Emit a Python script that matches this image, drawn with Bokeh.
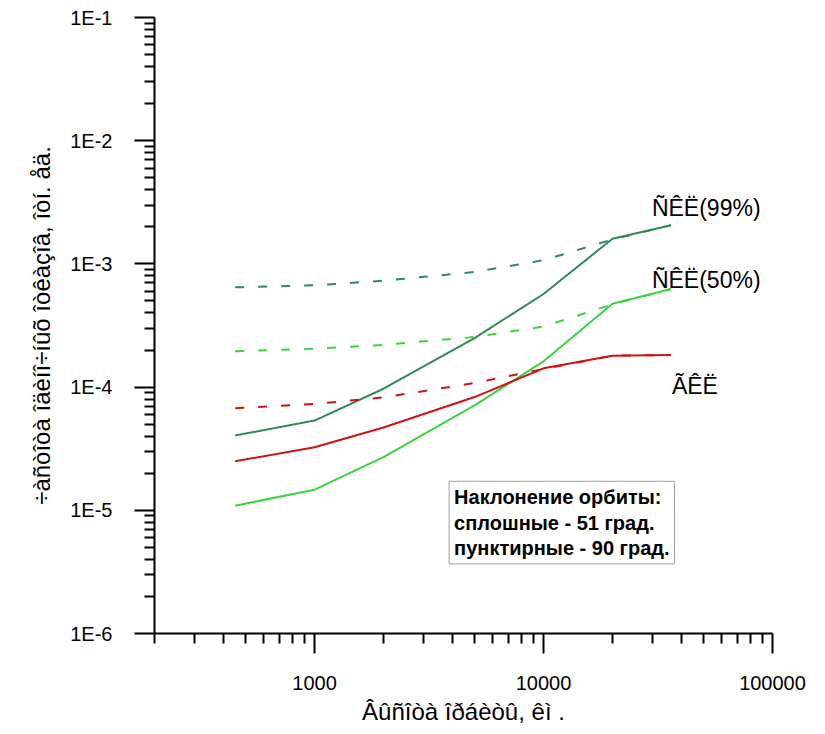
from bokeh.plotting import figure
from bokeh.models import (FixedTicker, CustomJSTickFormatter, Label,
                          ColumnDataSource, Range1d)
from bokeh.core.properties import value
from bokeh.embed import file_html
from bokeh.resources import INLINE

# ---------------- data ----------------
altitude_km = [450, 1000, 2000, 5000, 10000, 20000, 36000]
skl99_51 = [4.05e-5, 5.35e-5, 9.7e-5, 2.5e-4, 5.7e-4, 1.6e-3, 2.06e-3]
skl99_90 = [6.45e-4, 6.7e-4, 7.3e-4, 8.6e-4, 1.07e-3, 1.58e-3, 2.06e-3]
skl50_51 = [1.09e-5, 1.47e-5, 2.7e-5, 7.1e-5, 1.62e-4, 4.75e-4, 6.25e-4]
skl50_90 = [1.95e-4, 2.05e-4, 2.2e-4, 2.55e-4, 3.1e-4, 4.7e-4, 6.25e-4]
gkl_51 = [2.5e-5, 3.25e-5, 4.7e-5, 8.3e-5, 1.42e-4, 1.8e-4, 1.82e-4]
gkl_90 = [6.75e-5, 7.3e-5, 8.25e-5, 1.08e-4, 1.4e-4, 1.8e-4, 1.82e-4]

series_labels = ["\u00d1\u00ca\u00cb(99%)", "\u00d1\u00ca\u00cb(50%)", "\u00c3\u00ca\u00cb"]

x_ticks = [1000, 10000, 100000]
x_tick_labels = ["1000", "10000", "100000"]
y_ticks = [1e-6, 1e-5, 1e-4, 1e-3, 1e-2, 1e-1]
y_tick_labels = ["1E-6", "1E-5", "1E-4", "1E-3", "1E-2", "1E-1"]

x_title = "\u00c2\u00fb\u00f1\u00ee\u00f2\u00e0 \u00ee\u00f0\u00e1\u00e8\u00f2\u00fb, \u00ea\u00ec ."
y_title = "\u00f7\u00e0\u00f1\u00f2\u00ee\u00f2\u00e0 \u00ee\u00e4\u00e8\u00ed\u00ee\u00f7\u00ed\u00fb\u00f5 \u00ee\u00f2\u00ea\u00e0\u00e7\u00ee\u00e2, \u00ee\u00f2\u00ed. \u00e5\u00e4."
note_text = "Наклонение орбиты:\nсплошные - 51 град.\nпунктирные - 90 град."

# ---------------- style ----------------
DARK = "#2E8B57"
LIGHT = "#3CD43C"
RED = "#CC1414"
FONT = "Liberation Sans"

p = figure(width=817, height=733, x_axis_type="log", y_axis_type="log",
           x_range=Range1d(200, 100000), y_range=Range1d(1e-6, 1e-1),
           output_backend="svg", toolbar_location=None,
           min_border_left=154, min_border_right=45,
           min_border_top=17, min_border_bottom=100)
p.outline_line_color = None
p.grid.visible = False
p.background_fill_color = "white"
p.border_fill_color = "white"


def minor_of(ticks):
    out = []
    for t in ticks:
        for m in range(2, 10):
            out.append(t / 10 * m)
    return out


fmt_code = """
const i = tv.findIndex(t => Math.abs(Math.log10(t) - Math.log10(tick)) < 1e-6);
return i >= 0 ? tl[i] : "";
"""
p.xaxis.ticker = FixedTicker(ticks=x_ticks, minor_ticks=minor_of(x_ticks))
p.yaxis.ticker = FixedTicker(ticks=y_ticks, minor_ticks=minor_of(y_ticks))
p.xaxis.formatter = CustomJSTickFormatter(args=dict(tv=x_ticks, tl=x_tick_labels), code=fmt_code)
p.yaxis.formatter = CustomJSTickFormatter(args=dict(tv=y_ticks, tl=y_tick_labels), code=fmt_code)

for ax in (p.xaxis[0], p.yaxis[0]):
    ax.axis_line_width = 2
    ax.axis_line_color = "black"
    ax.major_tick_line_width = 2
    ax.minor_tick_line_width = 2
    ax.major_tick_out = 20
    ax.major_tick_in = 0
    ax.minor_tick_out = 10
    ax.minor_tick_in = 0
    ax.major_label_text_font = FONT
    ax.major_label_text_font_size = "20px"
    ax.major_label_text_color = "black"
    ax.axis_label_text_font = FONT
    ax.axis_label_text_font_size = "24px"
    ax.axis_label_text_font_style = "normal"
    ax.axis_label_text_color = "black"

p.xaxis.axis_label = x_title
p.yaxis.axis_label = y_title
p.xaxis.major_label_standoff = 22
p.xaxis.axis_label_standoff = 5
p.yaxis.major_label_standoff = 22
p.yaxis.axis_label_standoff = 12
p.yaxis.major_label_orientation = "horizontal"

# ---------------- lines ----------------
p.line(altitude_km, skl99_51, line_color=DARK, line_width=2)
p.line(altitude_km, skl99_90, line_color=DARK, line_width=2, line_dash="9 14")
p.line(altitude_km, skl50_51, line_color=LIGHT, line_width=2)
p.line(altitude_km, skl50_90, line_color=LIGHT, line_width=2, line_dash="9 14")
p.line(altitude_km, gkl_51, line_color=RED, line_width=2)
p.line(altitude_km, gkl_90, line_color=RED, line_width=2, line_dash="9 14")

# series labels anchored at the end of each solid curve
lab_src = ColumnDataSource(dict(
    x=[altitude_km[-1]] * 3,
    y=[skl99_51[-1], skl50_51[-1], gkl_51[-1]],
    text=series_labels,
    xo=[-19, -19, 1],
    yo=[-17, -9, 31],
))
p.text(x="x", y="y", text="text", source=lab_src, x_offset="xo", y_offset="yo",
       text_font=value(FONT), text_font_size="23px", text_color="black",
       text_align="left", text_baseline="middle")

note = Label(x=3870, y=1.72e-5, x_units="data", y_units="data",
             text=note_text, anchor="top_left",
             text_font="Liberation Sans", text_font_size="20px",
             text_font_style="bold", text_color="black",
             text_line_height=1.15, padding=5,
             border_line_color="#A0A0A0", border_line_width=1,
             background_fill_color="white")
p.add_layout(note)

open("out.html", "w").write(file_html(p, INLINE))
